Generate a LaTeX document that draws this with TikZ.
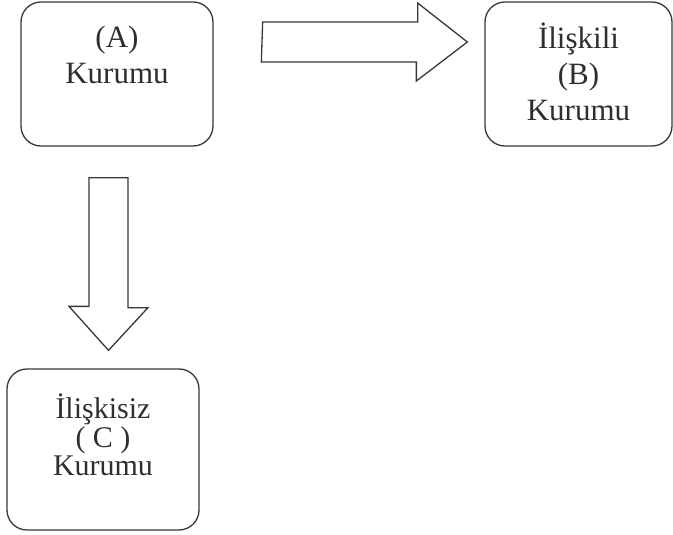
\documentclass[tikz,border=0pt]{standalone}
\usepackage{fontspec}
\setmainfont{Liberation Serif}
\usetikzlibrary{positioning,calc}
\tikzset{
	kutu/.style={draw=black!78,line width=1.3pt,rounded corners=20pt,inner sep=0pt},
	yazi/.style={align=center,text=black!82,font=\fontsize{31}{36}\selectfont},
	blok/.style={draw=black!78,line width=1.3pt,line join=miter}
}

\begin{document}
\begin{tikzpicture}[x=1pt,y=-1pt]
		\useasboundingbox (0,0) rectangle (673,535);
		\node[kutu,minimum width=192pt,minimum height=144pt] (A) at (117,74) {};
		\node[kutu,minimum width=187pt,minimum height=144pt] (B) at (578.5,74) {};
		\node[kutu,minimum width=192pt,minimum height=161pt] (C) at (103,449.5) {};
		\node[yazi,yshift=19pt] (Ayazi) at (A) {(A)\\Kurumu};
		\node[yazi,yshift=2.5pt] (Byazi) at (B) {İlişkili\\(B)\\Kurumu};
		\node[yazi,yshift=14.5pt,font=\fontsize{30}{28.5}\selectfont] (Cyazi) at (C) {İlişkisiz\\( C )\\Kurumu};
		\coordinate (sagbas) at ($(A.east)+(49,-32)$);
		\coordinate (saguc) at ($(B.west)+(-17,-32)$);
		\coordinate (asbas) at ($(A.south)+(-8.5,31)$);
		\coordinate (asuc) at ($(C.north)+(5.5,-18)$);
		\draw[blok] (sagbas) ++(0,-20) -- ++(155,0) -- ++(0,-19) -- (saguc) -- ++(-51,39) -- ++(0,-19) -- ++(-155,0) -- cycle;
		\draw[blok] (asbas) ++(-19.5,0) -- ++(39,0) -- ++(0,130) -- ++(20,0) -- (asuc) -- ++(-39.5,-44) -- ++(20,0) -- cycle;
\end{tikzpicture}
\end{document}
